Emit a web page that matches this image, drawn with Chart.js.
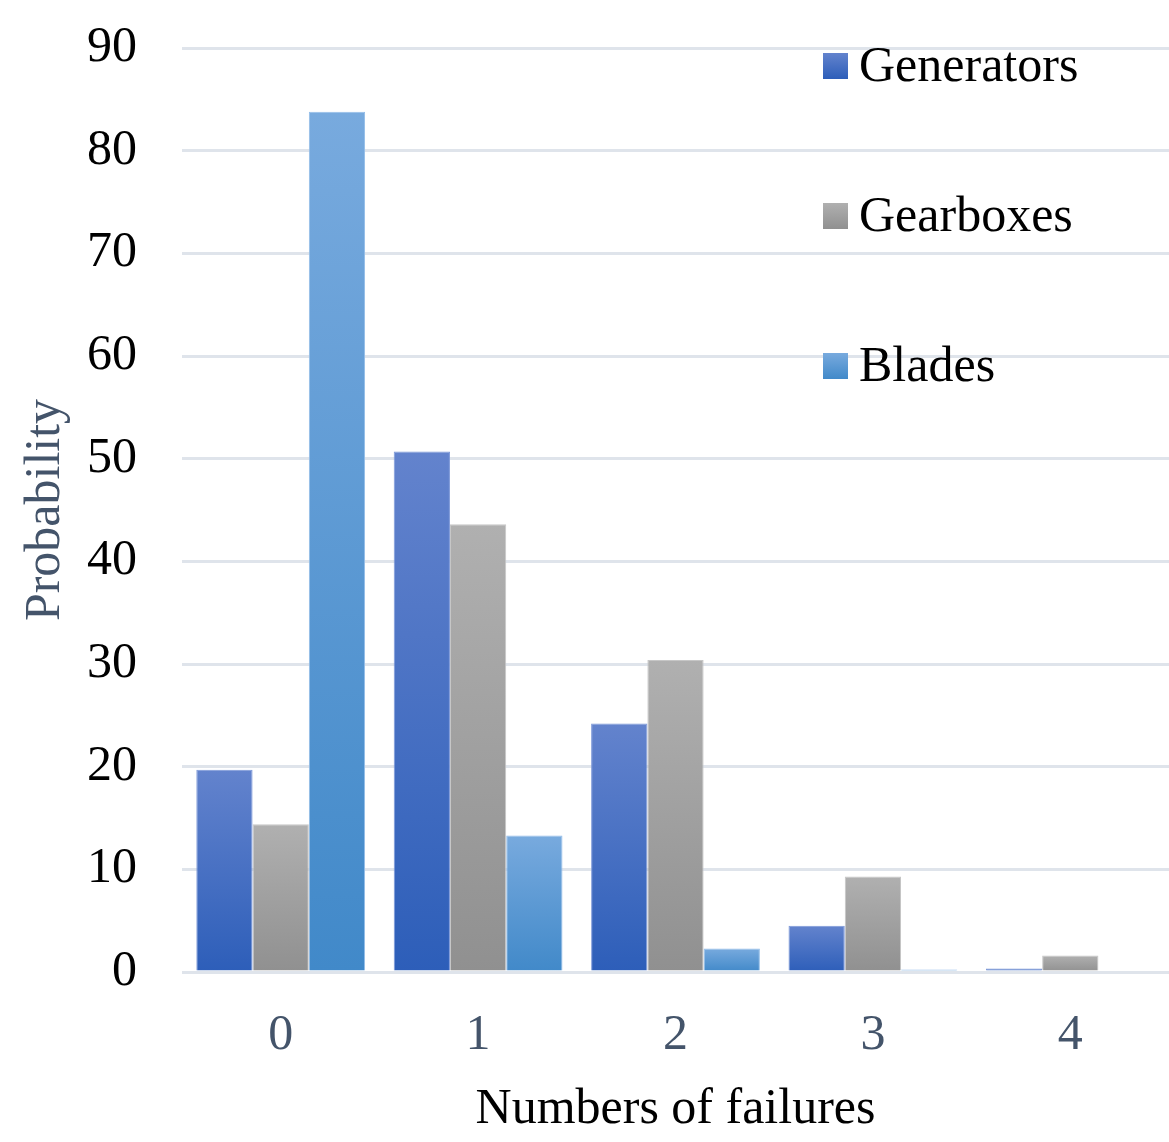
<!DOCTYPE html>
<html>
<head>
<meta charset="utf-8">
<script src="https://cdn.jsdelivr.net/npm/chart.js@4"></script>
<style>
    html, body { margin: 0; padding: 0; background: #fff; }
    #wrap { width: 1169px; height: 1142px; }
</style>
</head>
<body>
<div id="wrap"><canvas id="failChart" width="1169" height="1142"></canvas></div>
<script>
// 数据
const categories = ['0', '1', '2', '3', '4'];
const seriesNames = ['Generators', 'Gearboxes', 'Blades'];
const generators = [19.7, 50.7, 24.2, 4.5, 0.35];
const gearboxes = [14.4, 43.6, 30.4, 9.3, 1.6];
const blades = [83.8, 13.3, 2.3, 0.25, 0];
const yTicks = [0, 10, 20, 30, 40, 50, 60, 70, 80, 90];

// 颜色 (上 -> 下 渐变)
const COLORS = [
    { top: '#6383cd', bottom: '#2d5eb9', edge: '#7b97d8' },
    { top: '#b0b0b0', bottom: '#909090', edge: '#c6c6c6' },
    { top: '#78aade', bottom: '#4189c9', edge: '#92bde9' }
];
const FONT = '"Liberation Serif", "Times New Roman", serif';

// 每根柱子单独的竖向渐变
function barGradient(ctx, c) {
    const chart = ctx.chart;
    const y = chart.scales.y;
    if (!chart.chartArea || !y || ctx.raw == null) return c.bottom;
    const y0 = y.getPixelForValue(ctx.raw);
    const y1 = y.getPixelForValue(0);
    if (y1 - y0 < 1) return c.bottom;
    const g = chart.ctx.createLinearGradient(0, y0, 0, y1);
    g.addColorStop(0, c.top);
    g.addColorStop(1, c.bottom);
    return g;
}

// 右上角竖排图例
const sideLegend = {
    id: 'sideLegend',
    afterDraw(chart) {
        const ctx = chart.ctx;
        ctx.save();
        seriesNames.forEach((name, i) => {
            const cy = 66 + i * 150;
            const c = COLORS[i];
            const g = ctx.createLinearGradient(0, cy - 13, 0, cy + 13);
            g.addColorStop(0, c.top);
            g.addColorStop(1, c.bottom);
            ctx.fillStyle = g;
            ctx.fillRect(823, cy - 13, 25, 26);
            ctx.fillStyle = '#000';
            ctx.font = '50px ' + FONT;
            ctx.textAlign = 'left';
            ctx.textBaseline = 'middle';
            ctx.fillText(name, 859, cy + 2);
        });
        ctx.restore();
    }
};

const seriesData = [generators, gearboxes, blades];

new Chart(document.getElementById('failChart'), {
    type: 'bar',
    data: {
        labels: categories,
        datasets: seriesNames.map((name, i) => ({
            label: name,
            data: seriesData[i],
            backgroundColor: ctx => barGradient(ctx, COLORS[i]),
            borderColor: COLORS[i].edge,
            borderWidth: 1,
            categoryPercentage: 0.855,
            barPercentage: 1.0
        }))
    },
    options: {
        responsive: false,
        animation: false,
        layout: { padding: { top: 48, right: 0, bottom: 0, left: 0 } },
        plugins: {
            legend: { display: false },
            tooltip: { enabled: false }
        },
        scales: {
            x: {
                grid: { display: false },
                border: { display: false },
                ticks: {
                    color: '#44546a',
                    font: { family: FONT, size: 50 },
                    padding: 26,
                    maxRotation: 0
                },
                title: {
                    display: true,
                    text: 'Numbers of failures',
                    color: '#000',
                    font: { family: FONT, size: 50 },
                    padding: { top: 0, bottom: 2 }
                },
                afterFit: s => {
                    s.height = 170;
                    s.paddingLeft = 0;
                    s.paddingRight = 0;
                }
            },
            y: {
                min: 0,
                max: 90,
                afterBuildTicks: s => { s.ticks = yTicks.map(v => ({ value: v })); },
                grid: { color: '#dfe4eb', lineWidth: 3, drawTicks: false },
                border: { display: false },
                ticks: {
                    color: '#000',
                    font: { family: FONT, size: 50 },
                    padding: 45
                },
                title: {
                    display: true,
                    text: 'Probability',
                    color: '#44546a',
                    font: { family: FONT, size: 50 },
                    padding: { top: 16, bottom: 0 }
                },
                afterFit: s => {
                    s.width = 182;
                    s.paddingTop = 0;
                    s.paddingBottom = 0;
                }
            }
        }
    },
    plugins: [sideLegend]
});
</script>
</body>
</html>
